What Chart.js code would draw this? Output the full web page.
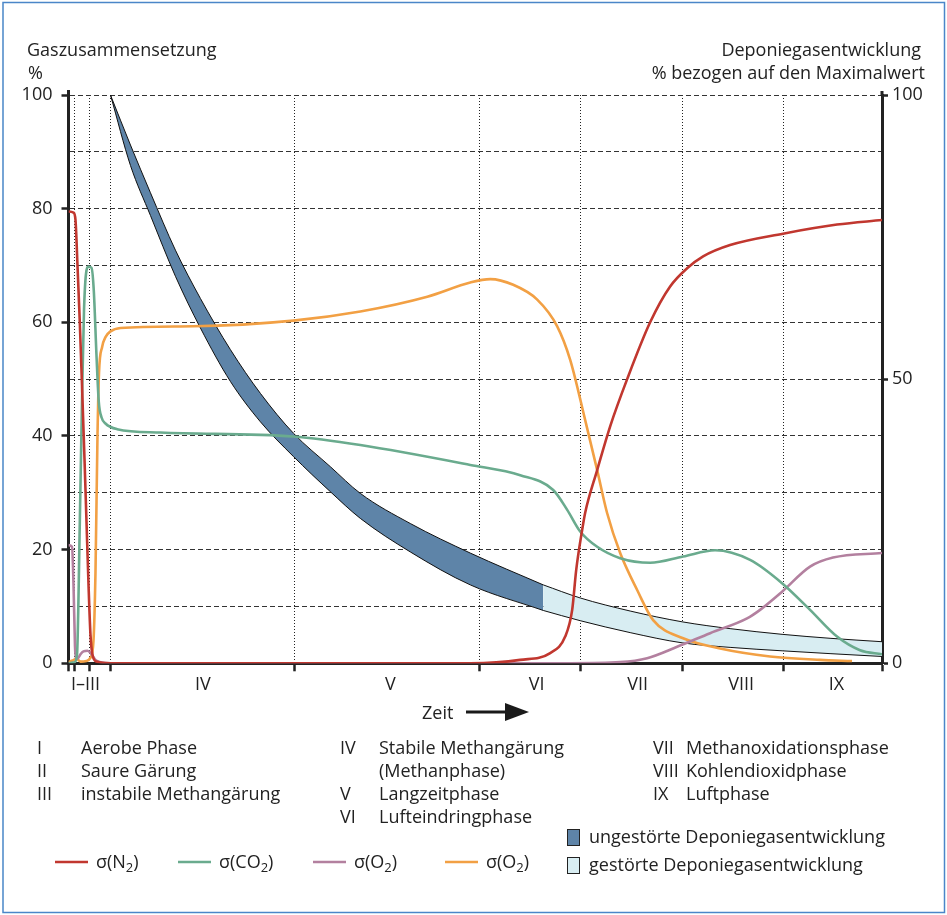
<!DOCTYPE html>
<html>
<head>
<meta charset="utf-8">
<script src="https://cdn.jsdelivr.net/npm/chart.js@4.4.1/dist/chart.umd.min.js"></script>
<style>
  html, body { margin: 0; padding: 0; background: #fff; }
  #wrap { position: relative; width: 947px; height: 915px; }
</style>
</head>
<body>
<div id="wrap"><canvas id="chart" width="947" height="915"></canvas></div>
<script>
// phases on the time axis (arbitrary time units)
const phaseBounds = [0, 6, 21, 42, 226, 411, 512, 614, 715, 814];
const phaseLabels = ["I–III", "IV", "V", "VI", "VII", "VIII", "IX"];
const phaseLabelAt = [17, 134.5, 322, 468.5, 569.5, 673, 768.5];

// landfill gas production band (% of max)
const bandX = [42, 62, 82, 107, 132, 162, 192, 225, 262, 292, 342, 402, 475, 512, 562, 614, 662, 714, 762, 814];
const bandUpper = [100, 91.2, 82.8, 72.7, 64.2, 55.2, 47.5, 40.5, 34.6, 29.9, 24.6, 19.4, 13.8, 11.5, 9.2, 7.3, 6.1, 5.1, 4.4, 3.8];
const bandLower = [100, 87.6, 78.8, 68.1, 59, 49.6, 42.5, 36.4, 30.2, 25.5, 19.6, 13.8, 9.3, 7.5, 5.4, 3.6, 2.8, 2.2, 1.7, 1.2];
const bandSplit = 475;

// gas composition (%)
const n2X = [0, 5, 7, 9, 11.3, 13.3, 16, 18, 20, 22, 24, 28, 42, 402, 452, 482, 497, 504, 508, 514, 517, 529, 542, 559, 582, 602, 619, 635, 662, 715, 769, 814];
const n2Y = [79.5, 79.3, 78, 70, 60, 50, 36, 25, 14, 5, 1.5, 0.3, 0, 0, 0.6, 1.8, 4.7, 9.4, 16.4, 23.5, 26.5, 34, 41.7, 50, 60, 66.3, 69.5, 71.6, 73.6, 75.6, 77.2, 78];

const co2X = [0, 6, 8.5, 11.3, 13.7, 15.5, 17.5, 20, 23, 25.3, 28, 30.3, 33, 37, 48.7, 92, 225, 292, 402, 452, 485, 499, 512, 529, 552, 582, 615, 647, 682, 714, 742, 769, 792, 814];
const co2Y = [0, 0.2, 1.5, 24.6, 48, 62, 68.5, 69.8, 69.6, 65.6, 54.2, 46, 43.3, 42.2, 41.2, 40.6, 39.9, 38.4, 34.9, 33.1, 30.5, 27, 23.2, 20.5, 18.5, 17.7, 18.8, 19.9, 18.2, 14.1, 9.4, 4.7, 2.3, 1.6];

const o2aX = [0, 3.5, 5, 6.5, 7.5, 9, 12, 15, 19, 23, 27, 32, 42, 502, 552, 579, 609, 642, 679, 692, 714, 742, 765, 814];
const o2aY = [20.8, 20.5, 14, 3, 1, 0.8, 1.6, 2.1, 2.2, 1.6, 0.6, 0.2, 0, 0, 0.2, 0.9, 2.9, 5.3, 7.9, 9.4, 12.6, 17, 18.6, 19.4];

const o2bX = [0, 4, 8, 12, 18, 22, 25, 27, 29, 30.5, 33.7, 37, 42, 52, 125, 225, 292, 359, 402, 422, 445, 469, 489, 502, 517, 529, 539, 552, 569, 585, 615, 652, 702, 752, 784];
const o2bY = [0.2, 0.5, 0.8, 0.3, 0.4, 1, 4, 16, 40, 51, 55.7, 57.4, 58.4, 59, 59.3, 60.3, 61.9, 64.5, 67, 67.6, 66.6, 64, 59.3, 53.4, 42.8, 34, 26.4, 19.4, 12.9, 7.6, 4.4, 2.6, 1.2, 0.6, 0.4];

const seriesLabels = ["σ(N_2)", "σ(CO_2)", "σ(O_2)", "σ(O_2)"];
const seriesColors = ["#c1372f", "#6aab8e", "#b3809f", "#f2a044"];
const bandLabels = ["ungestörte Deponiegasentwicklung", "gestörte Deponiegasentwicklung"];
const bandColors = ["#5e84a8", "#d8edf2"];

const phaseLegend = [
  [["I", "Aerobe Phase"], ["II", "Saure Gärung"], ["III", "instabile Methangärung"]],
  [["IV", "Stabile Methangärung"], ["", "(Methanphase)"], ["V", "Langzeitphase"], ["VI", "Lufteindringphase"]],
  [["VII", "Methanoxidationsphase"], ["VIII", "Kohlendioxidphase"], ["IX", "Luftphase"]]
];

const FONT = "'Open Sans', 'Noto Sans', sans-serif";
const FS = 18;
const TXT = "#222";

const pts = (xs, ys) => xs.map((x, i) => ({ x: x, y: ys[i] }));
const bandPart = (ys, light) => bandX
  .map((x, i) => ({ x: x, y: ys[i] }))
  .filter(p => light ? p.x >= bandSplit : p.x <= bandSplit);

const curve = (label, xs, ys, color) => ({
  label: label,
  data: pts(xs, ys),
  borderColor: color,
  borderWidth: 2.6,
  pointRadius: 0,
  fill: false,
  cubicInterpolationMode: "monotone"
});

const bandLine = (ys, light, fillTarget, bg) => ({
  label: "",
  data: bandPart(ys, light),
  borderColor: "#111",
  borderWidth: 1,
  pointRadius: 0,
  cubicInterpolationMode: "monotone",
  fill: fillTarget === null ? false : { target: fillTarget },
  backgroundColor: bg || "transparent"
});

const datasets = [
  curve("σ(N₂)", n2X, n2Y, seriesColors[0]),
  curve("σ(CO₂)", co2X, co2Y, seriesColors[1]),
  curve("σ(O₂)", o2aX, o2aY, seriesColors[2]),
  curve("σ(O₂)", o2bX, o2bY, seriesColors[3]),
  bandLine(bandUpper, false, null),
  bandLine(bandLower, false, 4, bandColors[0]),
  bandLine(bandUpper, true, null),
  bandLine(bandLower, true, 6, bandColors[1])
];

function drawLabel(ctx, str, x, y) {
  // "_2" marks a subscript 2
  const parts = str.split("_");
  let cx = x;
  ctx.textAlign = "left";
  ctx.font = FS + "px " + FONT;
  ctx.fillText(parts[0], cx, y);
  cx += ctx.measureText(parts[0]).width;
  if (parts.length > 1) {
    const sub = parts[1].charAt(0);
    const rest = parts[1].slice(1);
    ctx.font = "13px " + FONT;
    ctx.fillText(sub, cx, y + 4);
    cx += ctx.measureText(sub).width;
    ctx.font = FS + "px " + FONT;
    ctx.fillText(rest, cx, y);
  }
}

const extras = {
  id: "extras",
  afterDraw(chart) {
    const ctx = chart.ctx;
    const area = chart.chartArea;
    ctx.save();

    // axis lines run a little past 100
    ctx.strokeStyle = "#222";
    ctx.lineWidth = 3;
    ctx.beginPath();
    ctx.moveTo(area.left, area.top + 1);
    ctx.lineTo(area.left, area.top - 5);
    ctx.moveTo(area.right, area.top + 1);
    ctx.lineTo(area.right, area.top - 4);
    ctx.stroke();

    ctx.fillStyle = TXT;
    ctx.textBaseline = "alphabetic";
    ctx.font = FS + "px " + FONT;

    // axis titles
    ctx.textAlign = "left";
    ctx.fillText("Gaszusammensetzung", 27, 56);
    ctx.fillText("%", 28, 79);
    ctx.textAlign = "right";
    ctx.fillText("Deponiegasentwicklung", 921, 56);
    ctx.fillText("% bezogen auf den Maximalwert", 925, 79);

    // Zeit arrow
    ctx.textAlign = "left";
    ctx.fillText("Zeit", 422, 719);
    ctx.strokeStyle = "#1a1a1a";
    ctx.lineWidth = 3;
    ctx.beginPath();
    ctx.moveTo(466, 712);
    ctx.lineTo(508, 712);
    ctx.stroke();
    ctx.fillStyle = "#1a1a1a";
    ctx.beginPath();
    ctx.moveTo(505, 703);
    ctx.lineTo(529, 712);
    ctx.lineTo(505, 721);
    ctx.closePath();
    ctx.fill();

    // phase legend
    ctx.fillStyle = TXT;
    const colNum = [37, 340, 653];
    const colTxt = [81, 379, 686];
    phaseLegend.forEach((col, c) => {
      col.forEach((row, r) => {
        const y = 754 + r * 23;
        ctx.fillText(row[0], colNum[c], y);
        ctx.fillText(row[1], colTxt[c], y);
      });
    });

    // series legend
    const swX = [55, 178, 313, 445];
    seriesLabels.forEach((lab, i) => {
      ctx.strokeStyle = seriesColors[i];
      ctx.lineWidth = 2.6;
      ctx.beginPath();
      ctx.moveTo(swX[i], 862);
      ctx.lineTo(swX[i] + 33, 862);
      ctx.stroke();
      ctx.fillStyle = TXT;
      drawLabel(ctx, lab, swX[i] + 41, 868);
    });

    // band legend
    bandLabels.forEach((lab, i) => {
      const y = 829 + i * 28;
      ctx.fillStyle = bandColors[i];
      ctx.fillRect(567.5, y + 0.5, 12, 16);
      ctx.strokeStyle = "#222";
      ctx.lineWidth = 1;
      ctx.strokeRect(567.5, y + 0.5, 12, 16);
      ctx.fillStyle = TXT;
      ctx.font = FS + "px " + FONT;
      ctx.textAlign = "left";
      ctx.fillText(lab, 589, y + 14);
    });

    // frame
    ctx.strokeStyle = "#4a86c8";
    ctx.lineWidth = 1.5;
    ctx.strokeRect(3, 2.5, 941.5, 910);
    ctx.restore();
  }
};

new Chart(document.getElementById("chart"), {
  type: "line",
  data: { datasets: datasets },
  options: {
    responsive: false,
    animation: false,
    events: [],
    layout: { padding: { top: 95, left: 0, right: 0, bottom: 0 } },
    plugins: { legend: { display: false }, tooltip: { enabled: false } },
    scales: {
      x: {
        type: "linear",
        position: "bottom",
        weight: 0,
        min: 0,
        max: 814,
        afterBuildTicks: s => { s.ticks = phaseBounds.map(v => ({ value: v })); },
        ticks: { display: false },
        grid: {
          color: "#222",
          lineWidth: 1,
          drawTicks: true,
          tickLength: 8,
          tickColor: "#222",
          tickWidth: 2.5,
          tickBorderDash: []
        },
        border: { display: true, color: "#222", width: 3, dash: [1, 2] },
        afterFit: s => { s.height = 8; }
      },
      x2: {
        type: "linear",
        position: "bottom",
        weight: 1,
        min: 0,
        max: 814,
        afterBuildTicks: s => { s.ticks = phaseLabelAt.map(v => ({ value: v })); },
        ticks: {
          autoSkip: false,
          maxRotation: 0,
          padding: 3,
          color: TXT,
          font: { family: FONT, size: FS },
          callback: (v, i) => phaseLabels[i]
        },
        grid: { display: false, drawTicks: false },
        border: { display: false },
        afterFit: s => { s.height = 915 - 663.3 - 8; }
      },
      y: {
        position: "left",
        min: 0,
        max: 100,
        ticks: {
          stepSize: 10,
          autoSkip: false,
          padding: 9,
          color: TXT,
          font: { family: FONT, size: FS },
          callback: v => (v % 20 === 0 ? v : "")
        },
        grid: {
          color: "#333",
          lineWidth: 1,
          drawTicks: true,
          tickLength: 7,
          tickWidth: 2.5,
          tickBorderDash: [],
          tickColor: c => (c.tick && c.tick.value % 20 === 0 ? "#222" : "rgba(0,0,0,0)")
        },
        border: { color: "#222", width: 3, dash: [5, 3] },
        afterFit: s => { s.width = 68.5; }
      },
      y1: {
        position: "right",
        min: 0,
        max: 100,
        ticks: {
          stepSize: 50,
          padding: 4,
          color: TXT,
          font: { family: FONT, size: FS }
        },
        grid: {
          drawOnChartArea: false,
          drawTicks: true,
          tickLength: 6,
          tickWidth: 2.5,
          tickColor: "#222"
        },
        border: { color: "#222", width: 3 },
        afterFit: s => { s.width = 947 - 882; }
      }
    }
  },
  plugins: [extras]
});
</script>
</body>
</html>
